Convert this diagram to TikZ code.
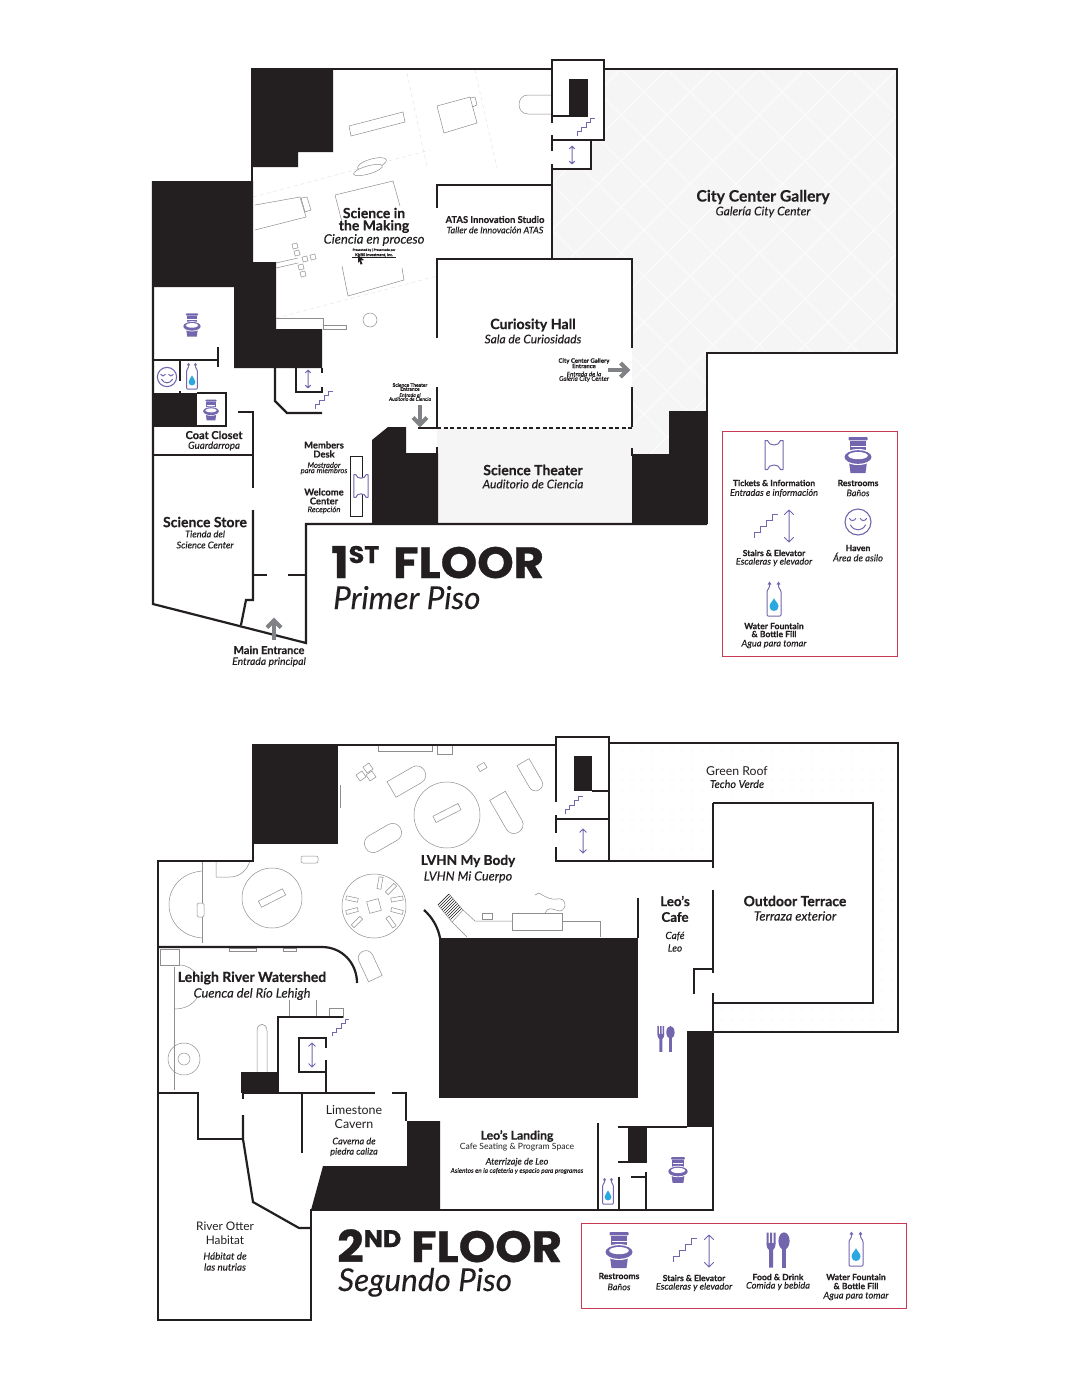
\documentclass[tikz,border=0pt]{standalone}
\usepackage{fontspec}
\setmainfont{Lato}[BoldFeatures={FakeBold=.5},ItalicFeatures={FakeBold=.2}]
\newfontfamily\ttlfont{Poppins}[FakeStretch=1.06,BoldFeatures={FakeBold=.8}]
\definecolor{ink}{HTML}{231F20}
\definecolor{purp}{HTML}{7466AE}
\definecolor{drop}{HTML}{2BA8E0}
\definecolor{gry}{HTML}{808285}
\definecolor{thin}{HTML}{8E8E8E}
\definecolor{faint}{HTML}{E6E6E6}
\definecolor{pale}{HTML}{F5F5F5}
\definecolor{lattice}{HTML}{FBFBFB}
\definecolor{legend}{HTML}{CB3A55}
\newcommand\BF[1]{\bfseries\fontsize{#1}{#1}\selectfont}
\newcommand\IT[1]{\itshape\fontsize{#1}{#1}\selectfont}
\newcommand\RG[1]{\fontsize{#1}{#1}\selectfont}
\newcommand\txt[5]{\node[lab,font={#4}] (#1) at (#2,#3) {#5};}
\newcommand\exrect[5]{\draw[ex,shift={(#1,#2)},rotate=#3] (-#4/2,-#5/2) rectangle (#4/2,#5/2);}
% capsule rounded at the +x end
\newcommand\excapa[5]{\draw[ex,shift={(#1,#2)},rotate=#3,fill=white] (-#4/2,-#5/2) [rounded corners=#5*0.48pt] -- (#4/2,-#5/2) -- (#4/2,#5/2) [sharp corners] -- (-#4/2,#5/2) -- cycle;}
% capsule rounded at both ends
\newcommand\excapb[5]{\draw[ex,shift={(#1,#2)},rotate=#3,fill=white,rounded corners=#5*0.48pt] (-#4/2,-#5/2) rectangle (#4/2,#5/2);}
\tikzset{
  wall/.style={draw=ink,line width=2.2pt,line cap=butt,line join=miter},
  ex/.style={draw=thin,line width=.5pt},
  solid block/.style={fill=ink,draw=none},
  lab/.style={inner sep=0pt,align=center,text=ink,anchor=center},
  dim/.style={draw=faint,line width=.5pt,dash pattern=on 4pt off 3pt},
  toilet/.pic={
    \fill[purp,rounded corners=.8pt] (-9.5,-18) rectangle (9.5,-14.6);
    \fill[purp] (-8,-13.6) rectangle (8,-3);
    \fill[purp] (-9,7) -- (9,7) -- (7.5,18) -- (-7.5,18) -- cycle;
    \draw[white,line width=.4pt] (-7.5,-9) -- (7.5,-9);
    \fill[white] (0,2) ellipse [x radius=15,y radius=8];
    \fill[purp] (0,2) ellipse [x radius=13.5,y radius=6.8];
    \fill[white] (0,.6) ellipse [x radius=9.8,y radius=3.6];
  },
  bottle/.pic={
    \draw[purp,line width=1pt,line join=round,fill=white,rounded corners=1pt]
      (-4.5,-17) -- (-4.5,-13) -- (-7,-9) -- (-7,16) -- (7,16) -- (7,-9) -- (4.5,-13) -- (4.5,-17);
    \draw[purp,line width=1pt] (-6,-15.5) -- (-4.5,-17.5) -- (-3,-15.5) (3,-15.5) -- (4.5,-17.5) -- (6,-15.5);
    \fill[drop] (0,-2) .. controls (.8,1) and (4.5,3) .. (4.5,6.5) .. controls (4.5,12.5) and (-4.5,12.5) .. (-4.5,6.5) .. controls (-4.5,3) and (-.8,1) .. cycle;
  },
  stairsicon/.pic={
    \draw[purp,line width=1pt,line join=miter] (-12,12) -- (-12,6) -- (-6,6) -- (-6,0) -- (0,0) -- (0,-6) -- (6,-6) -- (6,-12) -- (12,-12);
  },
  liftarrow/.pic={
    \draw[purp,line width=1pt,line join=round,line cap=round] (0,-16) -- (0,16) (-4.5,-11.5) -- (0,-16) -- (4.5,-11.5) (-4.5,11.5) -- (0,16) -- (4.5,11.5);
  },
  smiley/.pic={
    \draw[purp,line width=1.1pt,fill=white] (0,0) circle [radius=13];
    \draw[purp,line width=1pt,line cap=round] (-8.5,-3.5) .. controls (-7,-.8) and (-3.8,-.8) .. (-2.3,-3.5) (2.3,-3.5) .. controls (3.8,-.8) and (7,-.8) .. (8.5,-3.5) (-7.5,3) .. controls (-4,9.5) and (4,9.5) .. (7.5,3);
  },
  ticketicon/.pic={
    \draw[purp,line width=1pt,fill=white,line join=round] (-9,-14.5) -- (-6.5,-14.5) .. controls (-5.5,-8.5) and (5.5,-8.5) .. (6.5,-14.5) -- (9,-14.5) -- (9,14.5) -- (6.5,14.5) .. controls (5.5,8.5) and (-5.5,8.5) .. (-6.5,14.5) -- (-9,14.5) -- cycle;
  },
  forkspoon/.pic={
    \fill[purp] (-11.5,-17.5) rectangle (-9.5,-6) (-8,-17.5) rectangle (-6,-6) (-4.5,-17.5) rectangle (-2.5,-6);
    \fill[purp] (-11.5,-7) -- (-2.5,-7) .. controls (-2.5,-2) and (-4,-1) .. (-5,0) -- (-5,17.5) -- (-9,17.5) -- (-9,0) .. controls (-10,-1) and (-11.5,-2) .. (-11.5,-7) -- cycle;
    \fill[purp] (6,-9) ellipse [x radius=5.6,y radius=8.6];
    \fill[purp] (4,-3) rectangle (8,17.5);
  },
  gryarrow/.pic={
    \draw[gry,line width=4.6pt] (0,11) -- (0,-8);
    \draw[gry,line width=4pt,line join=miter] (-7,-1.5) -- (0,-8.5) -- (7,-1.5);
  },
}
\begin{document}
\begin{tikzpicture}[x=1pt,y=-1pt]
\useasboundingbox (0,0) rectangle (1080,1398);
\fill[white] (0,0) rectangle (1080,1398);

%% ---------- FIRST FLOOR ----------
% gallery
\begin{scope}
  \path[clip] (604,69) -- (897,69) -- (897,353) -- (707,353) -- (707,411) -- (669,411) -- (669,454) -- (632,454) -- (632,259) -- (552,259) -- (552,169) -- (591,169) -- (591,140) -- (604,140) -- cycle;
  \fill[pale] (540,60) rectangle (900,460);
  \foreach \k in {0,46,...,1400} {
    \draw[lattice,line width=1.4pt] (\k,0) -- (\k+500,500);
    \draw[lattice,line width=1.4pt] (\k,0) -- (\k-500,500);
  }
\end{scope}
\fill[pale] (437,428) rectangle (632,524);

% faint grid of the exhibit hall
\draw[dim] (407,73) -- (427,167) (475,70) -- (497,168) (253,197) -- (430,150) (276,318) -- (437,276);

% exhibits
\draw[ex] (349,126) -- (403,112) -- (405,122) -- (351,136) -- cycle;
\draw[ex] (437,106) -- (470,97) -- (477,123) -- (444,133) -- cycle;
\draw[ex] (470,98) -- (475,97) -- (477,105) -- (472,107);
\draw[ex] (552,95) -- (528,95) .. controls (516,95) and (516,114) .. (528,114) -- (552,114);
\draw[ex,fill=white,rotate around={16:(372,164)}] (372,164) ellipse [x radius=15,y radius=5];
\draw[ex,fill=white,rotate around={16:(368,170)}] (368,170) ellipse [x radius=15,y radius=4];
\draw[ex] (335,195) -- (393,181) -- (400,206) (335,195) -- (343,226) (342,266) -- (348,296) -- (404,280) -- (402,268);
\draw[ex] (255,205) -- (300,197) -- (306,217) -- (255,230);
\draw[ex] (301,198) -- (307,197) -- (311,210) -- (305,212) -- cycle;
\foreach \a/\b in {295/246,297/253,305/259,313/257,301/267,303/274} {
  \draw[ex,rotate around={15:(\a,\b)}] (\a-2.5,\b-2.5) rectangle (\a+2.5,\b+2.5);
}
\draw[ex] (276,263) -- (298,258) (276,268) -- (298,263);
\draw[ex] (370,320) circle [radius=7];
\draw[ex] (323,325) -- (346,325) -- (346,329) -- (323,329);

% black blocks
\fill[solid block] (251,69) -- (333,69) -- (333,152) -- (298,152) -- (298,167) -- (251,167) -- cycle;
\fill[solid block] (153,181) -- (253,181) -- (253,262) -- (276,262) -- (276,329) -- (322,329) -- (322,368) -- (234,368) -- (234,287) -- (153,287) -- cycle;
\fill[solid block] (569,79) rectangle (588,117);
\fill[solid block] (153,393) rectangle (197,426);
\fill[solid block] (372,440) -- (388,427) -- (406,427) -- (406,453) -- (438,453) -- (438,524) -- (372,524) -- cycle;
\fill[solid block] (632,454) -- (669,454) -- (669,411) -- (707,411) -- (707,524) -- (632,524) -- cycle;
\draw[ex] (276,318) -- (323,318) -- (323,329);

% walls
\draw[wall] (251,69) -- (552,69);
\draw[wall] (552,123) -- (552,60) -- (604,60) -- (604,140) -- (552,140);
\draw[wall] (552,116) -- (570,116);
\draw[wall] (552,135) -- (552,151);
\draw[wall] (591,140) -- (591,169) -- (552,169);
\draw[wall] (552,164) -- (552,259);
\draw[wall] (604,69) -- (897,69) -- (897,353) -- (707,353) -- (707,524);
\draw[wall] (707,524) -- (306,524) -- (306,643) -- (153,604) -- (153,181);
\draw[wall] (252,167) -- (252,182);
\draw[wall] (153,360) -- (218,360) (218,347) -- (218,367);
\draw[wall] (180,360) -- (180,381);
\draw[wall] (180,391) -- (180,393);
\draw[wall] (197,393) -- (226,393) -- (226,426) -- (153,426);
\draw[wall] (238,412) -- (253,412) -- (253,488);
\draw[wall] (153,455) -- (253,455);
\draw[wall] (253,510) -- (253,600) -- (246,600) -- (241,625);
\draw[wall] (253,575) -- (267,575) (288,575) -- (306,575);
\draw[wall] (275,368) -- (275,401) -- (287,413) -- (322,413);
\draw[wall] (296,368) -- (296,392) -- (322,392) -- (322,387);
\draw[wall] (322,368) -- (322,373);
\draw[wall] (437,208) -- (437,185) -- (552,185);
\draw[wall] (437,338) -- (437,259) -- (632,259) -- (632,348);
\draw[wall] (437,387) -- (437,427);
\draw[wall] (632,387) -- (632,427);
\draw[wall] (632,448) -- (632,456);
\draw[wall] (418,428) -- (437,428);
\draw[ink,line width=1.1pt,dash pattern=on 4pt off 2.6pt] (437,428) -- (632,428);
\draw[wall] (437,447) -- (437,455);
\draw[ink,line width=.5pt] (350,456) rectangle (362,516);

% icons first floor
\pic[scale=.72] at (586,127) {stairsicon};
\pic[scale=.55] at (572,155) {liftarrow};
\pic[scale=.64] at (192,325) {toilet};
\pic[scale=.74] at (167,377) {smiley};
\pic[scale=.76] at (192,377) {bottle};
\fill[white] (197,394) rectangle (225,425);
\pic[scale=.58] at (211,410) {toilet};
\pic[scale=.55] at (308,379) {liftarrow};
\pic[scale=.72] at (324,400) {stairsicon};
\pic[scale=.78] at (361,486) {ticketicon};
\pic at (274,629) {gryarrow};
\pic[rotate=180] at (420,416) {gryarrow};
\pic[rotate=-90] at (619,370) {gryarrow};

% labels first floor
\txt{sm1}{374}{213}{\BF{14}}{Science in}
\txt{sm2}{374}{226.5}{\BF{14}}{the Making}
\txt{sm3}{374}{240}{\IT{13}}{Ciencia en proceso}
\txt{sm4}{374}{250}{\BF{3.2}}{Presented by | Presentado por}
\txt{sm5}{374}{255}{\BF{3.8}}{KNBS Investment, Inc.}
\draw[ink,line width=.4pt] (352,257) -- (396,257);
\fill[ink] (358,255) -- (364,260) -- (361,260.5) -- (362.5,264) -- (360.5,264.5) -- (359.5,261) -- (358,263) -- cycle;
\txt{at1}{495}{219.5}{\BF{9.4}}{ATAS Innovation Studio}
\txt{at2}{495}{230}{\IT{9.1}}{Taller de Innovación ATAS}
\txt{ch1}{533}{325}{\BF{14.2}}{Curiosity Hall}
\txt{ch2}{533}{339}{\IT{12}}{Sala de Curiosidads}
\txt{cc1}{763}{197}{\BF{15.7}}{City Center Gallery}
\txt{cc2}{763}{212}{\IT{12}}{Galería City Center}
\txt{ce1}{584}{361}{\BF{6}}{City Center Gallery}
\txt{ce2}{584}{366}{\BF{6}}{Entrance}
\txt{ce3}{584}{374}{\IT{6.3}}{Entrada de la}
\txt{ce4}{584}{379}{\IT{6.3}}{Galería City Center}
\txt{st1}{410}{385}{\BF{4.9}}{Science Theater}
\txt{st2}{410}{389}{\BF{4.9}}{Entrance}
\txt{st3}{410}{395}{\IT{5}}{Entrada al}
\txt{st4}{410}{399}{\IT{5}}{Auditorio de Ciencia}
\txt{th1}{533}{470}{\BF{14}}{Science Theater}
\txt{th2}{533}{484}{\IT{12}}{Auditorio de Ciencia}
\txt{cl1}{214}{435}{\BF{11}}{Coat Closet}
\txt{cl2}{214}{446}{\IT{9.8}}{Guardarropa}
\txt{ss1}{205}{522}{\BF{14}}{Science Store}
\txt{ss2}{205}{534}{\IT{9.3}}{Tienda del}
\txt{ss3}{205}{545}{\IT{9.3}}{Science Center}
\txt{md1}{324}{445}{\BF{9.4}}{Members}
\txt{md2}{324}{454}{\BF{9.4}}{Desk}
\txt{md3}{324}{465}{\IT{7.6}}{Mostrador}
\txt{md4}{324}{471}{\IT{7.6}}{para miembros}
\txt{wc1}{324}{492}{\BF{9.4}}{Welcome}
\txt{wc2}{324}{501}{\BF{9.4}}{Center}
\txt{wc3}{324}{510}{\IT{7.8}}{Recepción}
\txt{me1}{269}{650}{\BF{11}}{Main Entrance}
\txt{me2}{269}{662}{\IT{10.4}}{Entrada principal}
\node[lab,anchor=base west,font={\ttlfont\bfseries\fontsize{43.8}{43.8}\selectfont}] (f1) at (331,578) {1\raisebox{15pt}{\fontsize{24}{24}\selectfont ST}\hspace{4pt} FLOOR};
\node[lab,anchor=base west,font=\IT{31.5}] (f1s) at (333,609) {Primer Piso};

% legend first floor
\draw[legend,line width=1pt] (722,431) rectangle (897,656);
\pic at (774,455) {ticketicon};
\pic at (858,455) {toilet};
\pic at (766,526) {stairsicon};
\pic at (789,526) {liftarrow};
\pic at (858,522) {smiley};
\pic at (774,600) {bottle};
\txt{l1a}{774}{483}{\BF{8.5}}{Tickets \& Information}
\txt{l1b}{774}{493}{\IT{9.2}}{Entradas e información}
\txt{l1c}{858}{483}{\BF{8.6}}{Restrooms}
\txt{l1d}{858}{493}{\IT{9}}{Baños}
\txt{l1e}{774}{553}{\BF{8.5}}{Stairs \& Elevator}
\txt{l1f}{774}{562}{\IT{9.2}}{Escaleras y elevador}
\txt{l1g}{858}{548}{\BF{8.6}}{Haven}
\txt{l1h}{858}{557}{\IT{9.4}}{Área de asilo}
\txt{l1i}{774}{626}{\BF{8.6}}{Water Fountain}
\txt{l1j}{774}{634}{\BF{8.6}}{\& Bottle Fill}
\txt{l1k}{774}{644}{\IT{9.3}}{Agua para tomar}

%% ---------- SECOND FLOOR ----------
% green roof dots
\begin{scope}
  \path[clip] (611,745) -- (896,745) -- (896,1031) -- (714,1031) -- (714,1004) -- (874,1004) -- (874,802) -- (712,802) -- (712,860) -- (611,860) -- cycle;
  \foreach \a in {612,622,...,892} { \foreach \b in {750,760,...,1030} { \fill[faint] (\a,\b) circle [radius=.7]; } }
\end{scope}

% exhibits
\draw[ex] (378,745) rectangle (432,751);
\draw[ex] (437,745) rectangle (452,754);
\draw[ex] (340,785) -- (340,808);
\exrect{447}{813}{27}{28}{7}
\draw[ex] (447,815) circle [radius=33];
\excapa{408}{780}{30}{38}{18}
\excapb{383}{838}{30}{40}{18}
\excapa{531}{776}{-60}{32}{14}
\excapa{508}{814}{-60}{42}{18}
\exrect{482}{767}{30}{8}{6}
\foreach \a/\b in {361/776,368/768,371/776} { \draw[ex,rotate around={35:(\a,\b)}] (\a-3.6,\b-3.6) rectangle (\a+3.6,\b+3.6); }
\draw[ex] (272,898) circle [radius=30];
\exrect{272}{898}{27}{27}{7}
\draw[ex] (374,906) circle [radius=32];
\exrect{374}{906}{15}{12}{12}
\exrect{380}{883}{80}{12}{4}
\exrect{391}{889}{45}{12}{4}
\exrect{397}{899}{10}{12}{4}
\exrect{397}{911}{-15}{12}{4}
\exrect{391}{922}{-55}{12}{4}
\exrect{357}{922}{45}{12}{4}
\exrect{352}{911}{15}{12}{4}
\exrect{352}{899}{-12}{12}{4}
\draw[ex] (202,871) .. controls (158,875) and (158,934) .. (202,938);
\draw[ex] (202,862) -- (202,943);
\draw[ex,fill=white,rounded corners=1.5pt] (197,903) rectangle (204,917);
\draw[ex] (216,861) -- (216,877) -- (230,877) .. controls (240,877) and (247,870) .. (250,861);
\draw[ex,rounded corners=2pt] (301,856) -- (318,856) -- (318,863) -- (301,863) -- cycle;
\excapa{369}{965}{115}{30}{15}
% stair exhibit
\draw[ex] (438,905) -- (449,894) -- (463,910) -- (452,922) -- cycle;
\foreach \t in {0,.1,...,1} { \draw[ink,line width=.5pt] ({438+\t*14},{905+\t*16}) -- ({449+\t*14},{894+\t*16}); }
\draw[ex] (463,910) -- (475,921) -- (512,921);
\draw[ex] (452,922) -- (467,937);
\draw[ex] (512,913) rectangle (562,930);
\draw[ex] (562,921) -- (600,921) -- (600,937);
\draw[ex] (482,913) rectangle (492,919);
\draw[ex] (535,895) -- (539,893) .. controls (547,898) and (552,900) .. (557,899) .. controls (567,897) and (567,910) .. (560,911) -- (552,909) .. controls (548,908) and (546,911) .. (545,913);
% Lehigh exhibits
\draw[ex] (160,949) rectangle (179,965);
\draw[ex] (229,948) rectangle (256,951);
\draw[ex] (283,948) rectangle (296,951);
\draw[ex] (179,965) .. controls (187,965) and (193,969) .. (197,975);
\draw[ex] (174,1009) .. controls (185,1009) and (192,1005) .. (197,998);
\draw[ex] (174,967) -- (174,1090);
\draw[ex] (289,1000) -- (289,1017) (316,1000) -- (316,1017);
\draw[ex] (329,1008) rectangle (343,1017);
\draw[ex] (257,1072) -- (257,1031) .. controls (257,1022) and (267,1022) .. (267,1031) -- (267,1072);
\draw[ex] (184,1059) circle [radius=16];
\draw[ex] (184,1059) circle [radius=6];

% black blocks
\fill[solid block] (252,745) rectangle (338,844);
\fill[solid block] (574,756) rectangle (592,791);
\fill[solid block] (439,938) rectangle (638,1098);
\fill[solid block] (241,1072) rectangle (278,1093);
\fill[solid block] (407,1121) -- (440,1121) -- (440,1210) -- (311,1210) -- (323,1166) -- (407,1166) -- cycle;
\fill[solid block] (687,1031) rectangle (713,1127);
\fill[solid block] (628,1127) rectangle (647,1162);

% walls
\draw[wall] (252,745) -- (556,745);
\draw[wall] (556,802) -- (556,737) -- (609,737) -- (609,861);
\draw[wall] (592,791) -- (609,791);
\draw[wall] (556,819) -- (609,819);
\draw[wall] (556,815) -- (556,833);
\draw[wall] (556,847) -- (556,861) -- (713,861) -- (713,868);
\draw[wall] (609,743) -- (898,743) -- (898,1032) -- (713,1032);
\draw[wall] (713,890) -- (713,973);
\draw[wall] (713,803) -- (873,803) -- (873,1003) -- (713,1003);
\draw[wall] (713,861) -- (713,803);
\draw[wall] (713,969) -- (694,969) -- (694,994);
\draw[wall] (713,993) -- (713,1210) -- (311,1210) -- (311,1320) -- (158,1320) -- (158,861) -- (253,861) -- (253,844);
\draw[wall] (158,947) -- (322,947) .. controls (342,947) and (357,963) .. (357,983);
\draw[wall] (424,910) .. controls (432,917) and (438,927) .. (440,938);
\draw[wall] (638,898) -- (638,938);
\draw[wall] (278,1092) -- (278,1017) -- (343,1017);
\draw[wall] (326,1048) -- (326,1038) -- (299,1038) -- (299,1072) -- (326,1072);
\draw[wall] (326,1060) -- (326,1093);
\draw[wall] (158,1093) -- (198,1093) -- (198,1139) -- (243,1139);
\draw[wall] (243,1093) -- (375,1093);
\draw[wall] (392,1093) -- (406,1093) -- (406,1121);
\draw[wall] (302,1093) -- (302,1153);
\draw[wall] (243,1093) -- (243,1099);
\draw[wall] (243,1115) -- (243,1139) -- (253,1202) -- (299,1228) -- (311,1228);
\draw[wall] (618,1127) -- (687,1127);
\draw[wall] (618,1162) -- (647,1162);
\draw[wall] (598,1123) -- (598,1210);
\draw[wall] (619,1177) -- (619,1210);
\draw[wall] (646,1172) -- (646,1210);
\draw[wall] (631,1177) -- (646,1177);

% icons second floor
\pic[scale=.72] at (574,805) {stairsicon};
\pic[scale=.75] at (583,841) {liftarrow};
\pic[scale=.7] at (341,1028) {stairsicon};
\pic[scale=.75] at (312,1055) {liftarrow};
\pic[scale=.72] at (678,1170) {toilet};
\pic[scale=.76] at (608,1192) {bottle};
\pic[scale=.74] at (666,1039) {forkspoon};

% labels second floor
\txt{mb1}{468}{861}{\BF{13.6}}{LVHN My Body}
\txt{mb2}{468}{877}{\IT{12.6}}{LVHN Mi Cuerpo}
\txt{gr1}{737}{771}{\RG{12.3}}{Green Roof}
\txt{gr2}{737}{784}{\IT{10.8}}{Techo Verde}
\txt{lc1}{675}{901}{\BF{13.3}}{Leo’s}
\txt{lc2}{675}{917}{\BF{13.3}}{Cafe}
\txt{lc3}{675}{936}{\IT{10}}{Café}
\txt{lc4}{675}{948}{\IT{10}}{Leo}
\txt{ot1}{795}{901}{\BF{14}}{Outdoor Terrace}
\txt{ot2}{795}{916}{\IT{12.8}}{Terraza exterior}
\txt{lr1}{252}{978}{\BF{14}}{Lehigh River Watershed}
\txt{lr2}{252}{994}{\IT{12.9}}{Cuenca del Río Lehigh}
\txt{lm1}{354}{1110}{\RG{12.4}}{Limestone}
\txt{lm2}{354}{1124}{\RG{12.4}}{Cavern}
\txt{lm3}{354}{1141}{\IT{9.2}}{Caverna de}
\txt{lm4}{354}{1152}{\IT{9.2}}{piedra caliza}
\txt{ll1}{517}{1136}{\BF{12.2}}{Leo’s Landing}
\txt{ll2}{517}{1147}{\RG{8.6}}{Cafe Seating \& Program Space}
\txt{ll3}{517}{1162}{\IT{9.1}}{Aterrizaje de Leo}
\txt{ll4}{517}{1171}{\IT{6.5}}{Asientos en la cafetería y espacio para programas}
\txt{ro1}{225}{1226}{\RG{11.8}}{River Otter}
\txt{ro2}{225}{1240}{\RG{11.8}}{Habitat}
\txt{ro3}{225}{1256}{\IT{9.8}}{Hábitat de}
\txt{ro4}{225}{1267}{\IT{9.8}}{las nutrias}
\node[lab,anchor=base west,font={\ttlfont\bfseries\fontsize{43.8}{43.8}\selectfont}] (f2) at (337,1262) {2\raisebox{15pt}{\fontsize{24}{24}\selectfont ND} FLOOR};
\node[lab,anchor=base west,font=\IT{31.5}] (f2s) at (338,1291) {Segundo Piso};

% legend second floor
\draw[legend,line width=1pt] (581,1223) rectangle (906,1308);
\pic at (619,1250) {toilet};
\pic at (685,1250) {stairsicon};
\pic at (709,1251) {liftarrow};
\pic at (778,1250) {forkspoon};
\pic at (856,1250) {bottle};
\txt{l2a}{619}{1276}{\BF{8.6}}{Restrooms}
\txt{l2b}{619}{1287}{\IT{9}}{Baños}
\txt{l2c}{694}{1278}{\BF{8.5}}{Stairs \& Elevator}
\txt{l2d}{694}{1287}{\IT{9.2}}{Escaleras y elevador}
\txt{l2e}{778}{1277}{\BF{8.6}}{Food \& Drink}
\txt{l2f}{778}{1286}{\IT{9.2}}{Comida y bebida}
\txt{l2g}{856}{1277}{\BF{8.6}}{Water Fountain}
\txt{l2h}{856}{1286}{\BF{8.6}}{\& Bottle Fill}
\txt{l2i}{856}{1296}{\IT{9.3}}{Agua para tomar}
\end{tikzpicture}
\end{document}
